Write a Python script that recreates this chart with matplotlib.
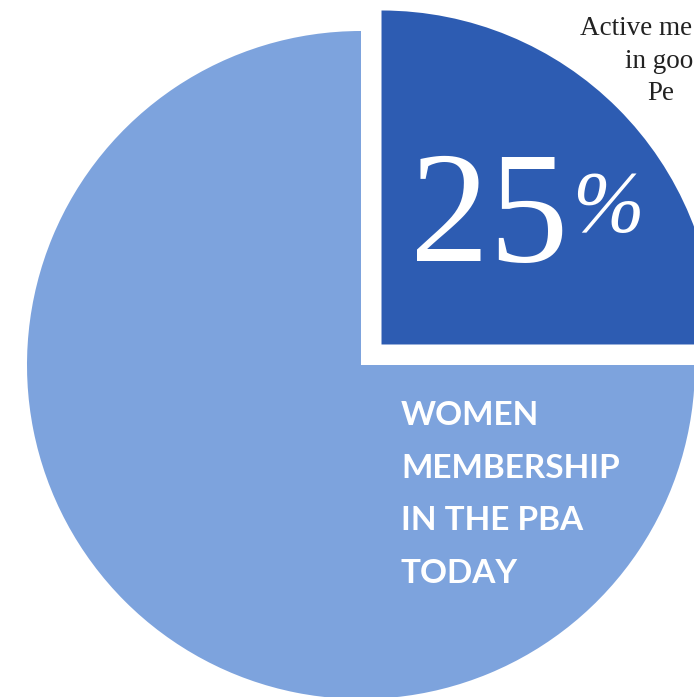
import matplotlib.pyplot as plt

# shares of the pie (women vs. everyone else)
labels = ['Women', 'Men']
shares = [25, 75]
colors = ['#2d5cb2', '#7da3dd']
explode = [29, 0]   # pie() explode is in data units when radius != 1

pct_label = '25'
caption = ['WOMEN', 'MEMBERSHIP', 'IN THE PBA', 'TODAY']
side_text = ['Active me', 'in goo', 'Pe']

W, H = 694, 697
fig = plt.figure(figsize=(W / 100, H / 100), dpi=100)
ax = fig.add_axes([0, 0, 1, 1])

ax.pie(shares, colors=colors, explode=explode, startangle=0,
       counterclock=True, radius=334, center=(361, H - 365),
       wedgeprops=dict(linewidth=0))
ax.set_xlim(0, W)
ax.set_ylim(0, H)
ax.set_aspect('equal')
ax.axis('off')

# big percentage in the dark wedge
ax.text(410, H - 261, pct_label, color='white', fontsize=114,
        family='Liberation Serif', va='baseline', ha='left')
ax.text(572, H - 231, '%', color='white', fontsize=62, style='italic',
        family='Liberation Serif', va='baseline', ha='left')

# caption in the light part
for i, line in enumerate(caption):
    ax.text(401, H - (425 + i * 52.7), line, color='white', fontsize=24,
            family='Lato', weight='bold', va='baseline', ha='left')

# body text top right, cut by the page edge in the original
xs = [580, 625, 647]
for i, line in enumerate(side_text):
    ax.text(xs[i], H - (35 + i * 32.5), line, color='#222222', fontsize=19.5,
            family='Liberation Serif', va='baseline', ha='left')

fig.savefig('out.png', dpi=100)
